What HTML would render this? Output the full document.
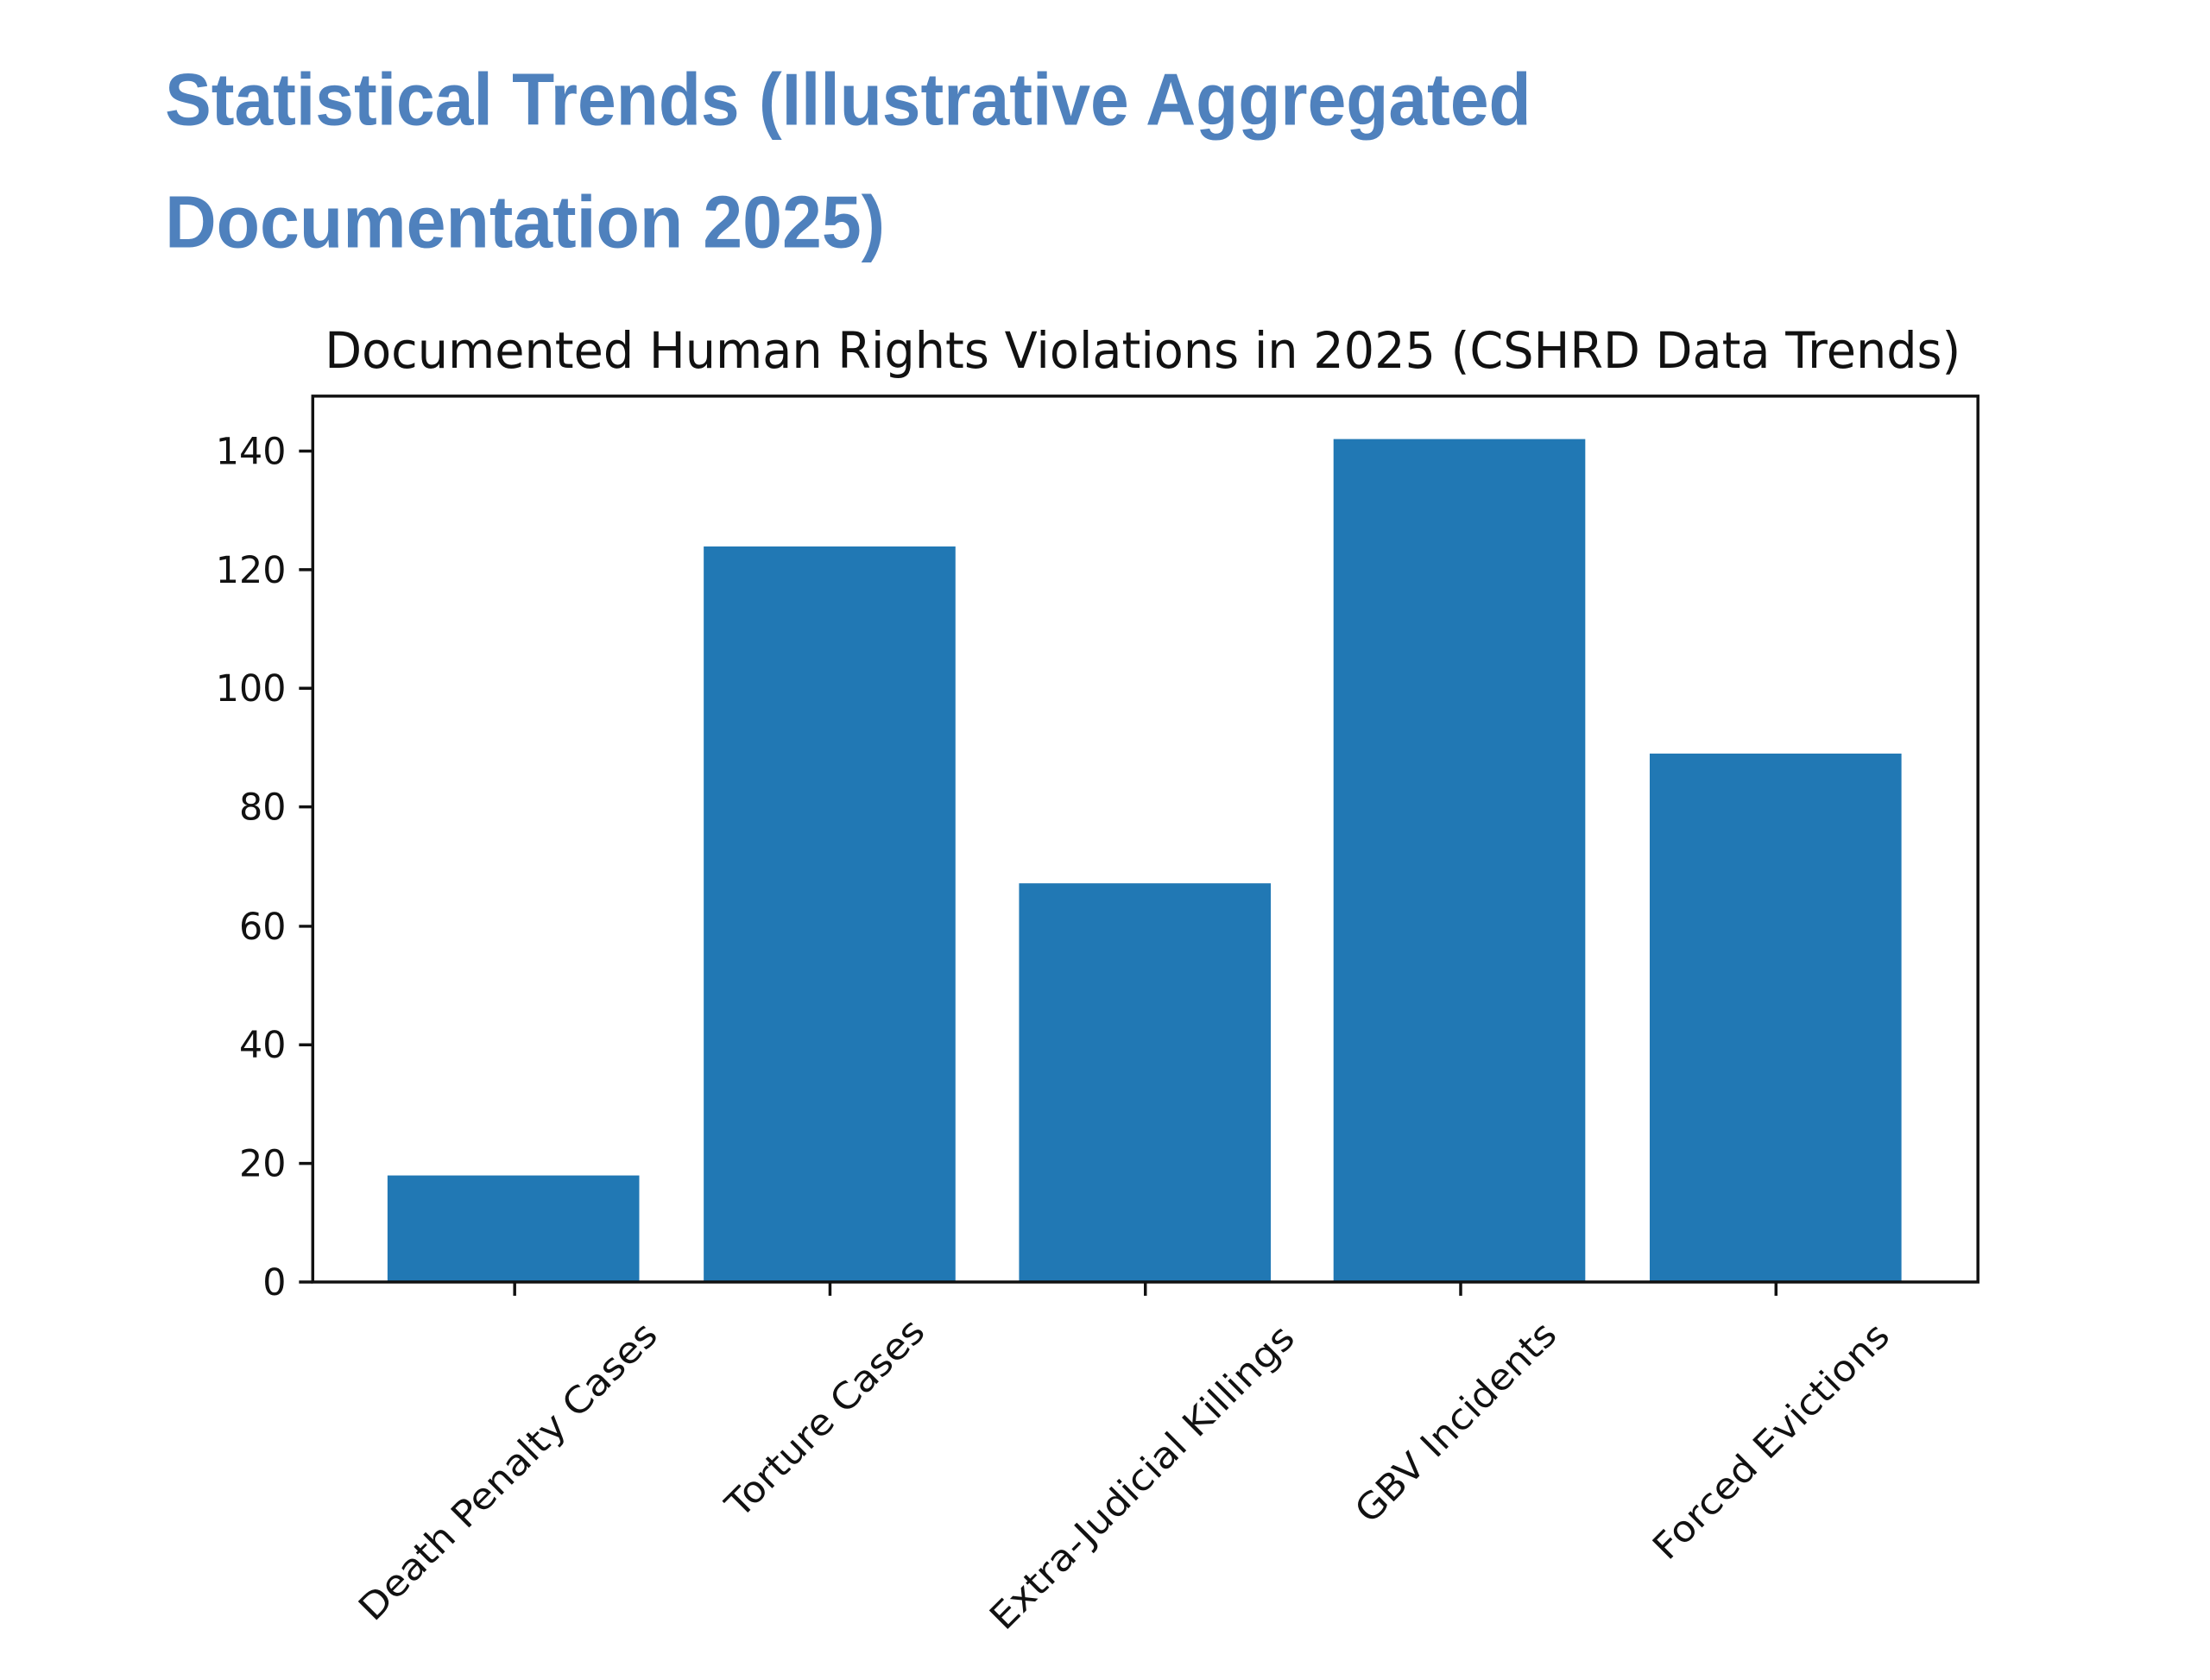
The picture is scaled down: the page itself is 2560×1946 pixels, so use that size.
<!DOCTYPE html>
<html><head><meta charset="utf-8"><style>
html,body{margin:0;padding:0;background:#fff;}
svg{display:block;}
</style></head><body>
<svg width="2560" height="1946" viewBox="0 0 2560 1946" xmlns="http://www.w3.org/2000/svg">
<rect width="2560" height="1946" fill="#fff"/>
<g transform="scale(0.9953)">
<g font-family="Liberation Sans, sans-serif" font-weight="bold" fill="#4f81bd" font-size="86">
<text x="192" y="145" textLength="1590" lengthAdjust="spacingAndGlyphs">Statistical Trends (Illustrative Aggregated</text>
<text x="192" y="288" textLength="838" lengthAdjust="spacingAndGlyphs">Documentation 2025)</text>
</g>
<text x="1330" y="428" text-anchor="middle" font-family="DejaVu Sans, sans-serif" font-size="58" fill="#111" textLength="1904" lengthAdjust="spacingAndGlyphs">Documented Human Rights Violations in 2025 (CSHRD Data Trends)</text>
<g fill="#2178b4">
<rect x="451" y="1368" width="293" height="124"/>
<rect x="819" y="636" width="293" height="856"/>
<rect x="1186" y="1028" width="293" height="464"/>
<rect x="1552" y="511" width="293" height="981"/>
<rect x="1920" y="877" width="293" height="615"/>
</g>
<rect x="364" y="461" width="1938" height="1031" fill="none" stroke="#111" stroke-width="3.5"/>
<g stroke="#111" stroke-width="3.5">
<line x1="348" y1="1492" x2="364" y2="1492"/>
<line x1="348" y1="1354" x2="364" y2="1354"/>
<line x1="348" y1="1216" x2="364" y2="1216"/>
<line x1="348" y1="1078" x2="364" y2="1078"/>
<line x1="348" y1="939" x2="364" y2="939"/>
<line x1="348" y1="801" x2="364" y2="801"/>
<line x1="348" y1="663" x2="364" y2="663"/>
<line x1="348" y1="525" x2="364" y2="525"/>
<line x1="599" y1="1492" x2="599" y2="1508"/>
<line x1="966" y1="1492" x2="966" y2="1508"/>
<line x1="1333" y1="1492" x2="1333" y2="1508"/>
<line x1="1700" y1="1492" x2="1700" y2="1508"/>
<line x1="2067" y1="1492" x2="2067" y2="1508"/>
</g>
<g font-family="DejaVu Sans, sans-serif" font-size="43" fill="#111" text-anchor="end">
<text x="333" y="1507">0</text>
<text x="333" y="1369">20</text>
<text x="333" y="1231">40</text>
<text x="333" y="1093">60</text>
<text x="333" y="954">80</text>
<text x="333" y="816">100</text>
<text x="333" y="678">120</text>
<text x="333" y="540">140</text>
</g>
<g font-family="DejaVu Sans, sans-serif" font-size="42" fill="#111" text-anchor="middle" dominant-baseline="central">
<text transform="translate(591,1712) rotate(-45)" textLength="470" lengthAdjust="spacingAndGlyphs">Death Penalty Cases</text>
<text transform="translate(960,1650) rotate(-45)" textLength="306" lengthAdjust="spacingAndGlyphs">Torture Cases</text>
<text transform="translate(1329,1719) rotate(-45)" textLength="480" lengthAdjust="spacingAndGlyphs">Extra-Judicial Killings</text>
<text transform="translate(1694,1655) rotate(-45)" textLength="310" lengthAdjust="spacingAndGlyphs">GBV Incidents</text>
<text transform="translate(2061,1677) rotate(-45)" textLength="368" lengthAdjust="spacingAndGlyphs">Forced Evictions</text>
</g>
</g>
</svg>
</body></html>
